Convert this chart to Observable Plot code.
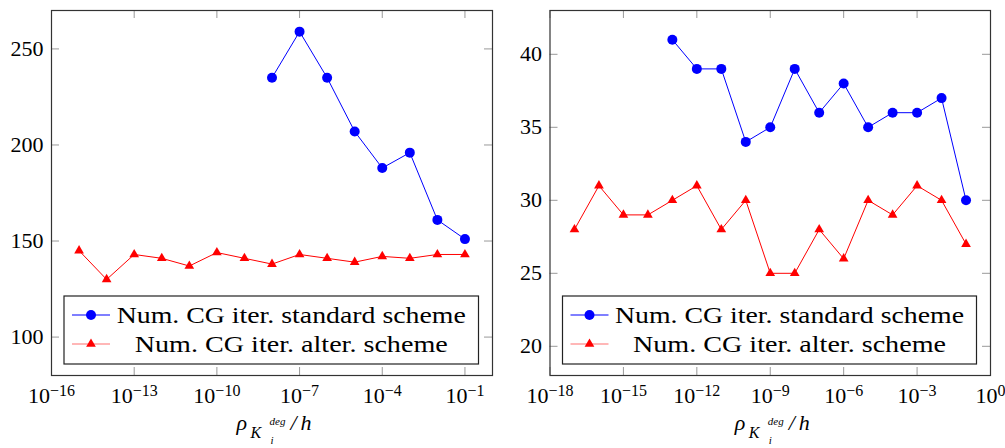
<!DOCTYPE html>
<html><head><meta charset="utf-8">
<script src="https://cdn.jsdelivr.net/npm/d3@7"></script>
<script src="https://cdn.jsdelivr.net/npm/@observablehq/plot@0.6"></script>
<style>
body{margin:0;background:#fff;font-family:"Liberation Serif";}
#wrap{position:relative;width:1005px;height:448px;display:flex;}
#wrap svg{display:block;flex:none;}
.xl{position:absolute;font-family:"Liberation Serif";font-style:italic;color:#000;white-space:nowrap;}
.xl span{position:absolute;line-height:1;}
</style></head><body><div id="wrap"></div>
<script>
// ---- Left panel data (x = 10^exponent) ----
const leftStdExp  = [-8,-7,-6,-5,-4,-3,-2,-1];
const leftStdIter = [235,259,235,207,188,196,161,151];
const leftAltExp  = [-15,-14,-13,-12,-11,-10,-9,-8,-7,-6,-5,-4,-3,-2,-1];
const leftAltIter = [145,130,143,141,137,144,141,138,143,141,139,142,141,143,143];
const leftXTicks  = [-16,-13,-10,-7,-4,-1];
const leftYTicks  = [100,150,200,250];
const leftXDomain = [-16,0];
const leftYDomain = [80,270];

// ---- Right panel data ----
const rightStdExp  = [-13,-12,-11,-10,-9,-8,-7,-6,-5,-4,-3,-2,-1];
const rightStdIter = [41,39,39,34,35,39,36,38,35,36,36,37,30];
const rightAltExp  = [-17,-16,-15,-14,-13,-12,-11,-10,-9,-8,-7,-6,-5,-4,-3,-2,-1];
const rightAltIter = [28,31,29,29,30,31,28,30,25,25,28,26,30,29,31,30,27];
const rightXTicks  = [-18,-15,-12,-9,-6,-3,0];
const rightYTicks  = [20,25,30,35,40];
const rightXDomain = [-18,0];
const rightYDomain = [18,43];

const legendLabels = ["Num. CG iter. standard scheme","Num. CG iter. alter. scheme"];
const blue = "#0000ff", red = "#ff0000";
const FONT = "Liberation Serif";

function rows(exps, vals){ return exps.map((e,i)=>({x:10**e, y:vals[i]})); }

const wrap = document.getElementById("wrap");

function panel(cfg){
  const {std, alt, xTicks, yTicks, xDomain, yDomain, width, ml, mr, left} = cfg;
  const height = 448, mt = 10, mb = 73;
  const ph = height - mt - mb, pw = width - ml - mr, tl = 8;
  const xt = xTicks.map(e=>10**e);
  const tickStroke = "#999";
  const fig = Plot.plot({
    width, height, marginLeft: ml, marginRight: mr, marginTop: mt, marginBottom: mb,
    x: {type: "log", domain: xDomain.map(e=>10**e)},
    y: {domain: yDomain},
    style: {fontFamily: FONT, fontSize: "22px"},
    marks: [
      Plot.ruleX(xt, {x: d=>d, insetTop: ph - tl, stroke: tickStroke}),
      Plot.ruleX(xt, {x: d=>d, insetBottom: ph - tl, stroke: tickStroke}),
      Plot.ruleY(yTicks, {y: d=>d, insetRight: pw - tl, stroke: tickStroke}),
      Plot.ruleY(yTicks, {y: d=>d, insetLeft: pw - tl, stroke: tickStroke}),
      Plot.axisX({anchor: "bottom", ticks: xt, tickSize: 0, tickPadding: 12,
        tickFormat: d => String(Math.round(Math.log10(d))), label: null}),
      Plot.axisY({anchor: "left", ticks: yTicks, tickSize: 0, tickPadding: 8, label: null}),
      Plot.line(std, {x: "x", y: "y", stroke: blue, strokeWidth: 1}),
      Plot.dot(std, {x: "x", y: "y", r: 5, fill: blue}),
      Plot.line(alt, {x: "x", y: "y", stroke: red, strokeWidth: 1}),
      Plot.dot(alt, {x: "x", y: "y", r: 3.6, symbol: "triangle", fill: red}),
      Plot.frame({stroke: "#333", strokeWidth: 1.2})
    ]
  });
  const svg = d3.select(fig);
  svg.selectAll('g[aria-label$="tick label"]').attr("font-family", FONT);
  // superscript exponents on x tick labels
  svg.selectAll('g[aria-label="x-axis tick label"] text').each(function(){
    const t = d3.select(this);
    const e = +t.text();
    t.text("");
    t.append("tspan").text("10");
    t.append("tspan").attr("font-size", 16).attr("dy", "-0.45em")
      .text(e < 0 ? "\u2212" + (-e) : String(e));
  });
  // legend
  const lx0 = ml + 13, lx1 = ml + pw - 13.5, ly0 = 296, ly1 = 364;
  const g = svg.append("g").attr("font-size", 24).attr("font-family", FONT);
  g.append("rect").attr("x", lx0).attr("y", ly0).attr("width", lx1 - lx0).attr("height", ly1 - ly0)
    .attr("fill", "#fff").attr("stroke", "#222").attr("stroke-width", 1.2);
  const textCenter = (lx0 + 52 + lx1) / 2 - 6;
  const rowsY = [315, 344];
  const lens = [349, 313];
  legendLabels.forEach((lab, i) => {
    const y = rowsY[i];
    const col = i === 0 ? blue : "#ff7070";
    g.append("line").attr("x1", lx0 + 8).attr("x2", lx0 + 46).attr("y1", y).attr("y2", y)
      .attr("stroke", col).attr("stroke-width", 1.2);
    if (i === 0) g.append("circle").attr("cx", lx0 + 27).attr("cy", y).attr("r", 5).attr("fill", blue);
    else g.append("path").attr("transform", `translate(${lx0 + 27},${y})`)
      .attr("d", d3.symbol(d3.symbolTriangle, 3.6*3.6*Math.PI)()).attr("fill", red);
    g.append("text").attr("x", textCenter).attr("y", y + 8).attr("text-anchor", "middle")
      .attr("textLength", lens[i]).attr("lengthAdjust", "spacingAndGlyphs").text(lab);
  });
  wrap.append(fig);
  // x-axis label  rho_{K_i^{deg}}/h  (HTML text under the frame)
  const c = left + ml + pw / 2;
  const xl = document.createElement("div");
  xl.className = "xl";
  xl.style.left = "0px"; xl.style.top = "0px";
  const parts = [["\u03C1", 22, -35, 430], ["K", 16, -21, 438], ["deg", 11, -2, 425],
                 ["i", 11, -1, 444], ["/", 22, 19, 430], ["h", 22, 29, 430]];
  for (const [s, fs, dx, base] of parts) {
    const sp = document.createElement("span");
    sp.textContent = s;
    sp.style.fontSize = fs + "px";
    sp.style.left = (c + dx) + "px";
    sp.style.top = (base - 0.8375 * fs) + "px";
    xl.append(sp);
  }
  wrap.append(xl);
}

panel({std: rows(leftStdExp, leftStdIter), alt: rows(leftAltExp, leftAltIter),
  xTicks: leftXTicks, yTicks: leftYTicks, xDomain: leftXDomain, yDomain: leftYDomain,
  width: 500, ml: 51, mr: 8, left: 0});
panel({std: rows(rightStdExp, rightStdIter), alt: rows(rightAltExp, rightAltIter),
  xTicks: rightXTicks, yTicks: rightYTicks, xDomain: rightXDomain, yDomain: rightYDomain,
  width: 505, ml: 49.5, mr: 15, left: 500});
</script></body></html>
